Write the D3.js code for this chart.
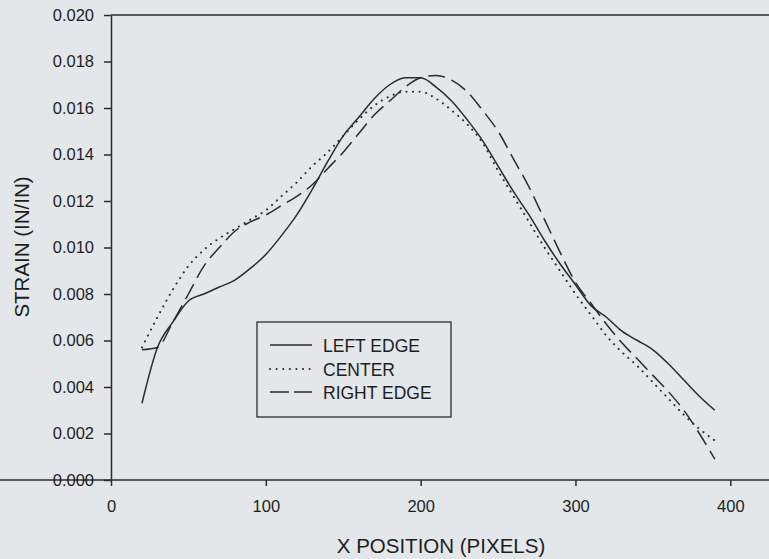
<!DOCTYPE html>
<html>
<head>
<meta charset="utf-8">
<script src="https://cdn.jsdelivr.net/npm/d3@7"></script>
<style>
  html, body { margin: 0; padding: 0; background: #e3e7ea; }
  svg { display: block; }
  text { font-family: "Liberation Sans", Arial, Helvetica, sans-serif; fill: #1e1e1e; }
</style>
</head>
<body>
<svg id="chart" width="769" height="559"></svg>
<script>
// ---- data ----
const xPositions = [20, 30, 40, 50, 60, 70, 80, 90, 100, 110, 120, 130, 140, 150, 160, 170, 180, 190, 200,
  210, 220, 230, 240, 250, 260, 270, 280, 290, 300, 310, 320, 330, 340, 350, 360, 370, 380, 390];
const leftEdge = [0.0033, 0.0057, 0.0068, 0.0077, 0.0080, 0.0083, 0.0086, 0.0091, 0.0097, 0.0105, 0.0114,
  0.0125, 0.0137, 0.0148, 0.0156, 0.0164, 0.0170, 0.0173, 0.0173, 0.0169, 0.0163, 0.0155, 0.0146, 0.0135,
  0.0124, 0.0114, 0.0103, 0.0093, 0.0084, 0.0075, 0.0070, 0.0064, 0.0060, 0.0056, 0.0050, 0.0043, 0.0036, 0.0030];
const center = [0.0057, 0.0070, 0.0082, 0.0092, 0.0099, 0.0104, 0.0108, 0.0112, 0.0116, 0.0122, 0.0128,
  0.0135, 0.0141, 0.0148, 0.0155, 0.0161, 0.0165, 0.0167, 0.0167, 0.0164, 0.0159, 0.0153, 0.0145, 0.0133,
  0.0122, 0.0111, 0.0100, 0.0090, 0.0080, 0.0071, 0.0062, 0.0055, 0.0049, 0.0042, 0.0035, 0.0028, 0.0022, 0.0017];
const rightEdge = [0.0056, 0.0057, 0.0068, 0.0080, 0.0092, 0.0100, 0.0107, 0.0111, 0.0114, 0.0118, 0.0122,
  0.0127, 0.0134, 0.0141, 0.0149, 0.0157, 0.0163, 0.0169, 0.0173, 0.0174, 0.0172, 0.0167, 0.0159, 0.0150,
  0.0138, 0.0126, 0.0112, 0.0098, 0.0085, 0.0076, 0.0067, 0.0059, 0.0052, 0.0045, 0.0038, 0.0030, 0.0020, 0.0009];
const seriesNames = ["LEFT EDGE", "CENTER", "RIGHT EDGE"];
const xTickValues = [0, 100, 200, 300, 400];
const yTickValues = [0, 0.002, 0.004, 0.006, 0.008, 0.010, 0.012, 0.014, 0.016, 0.018, 0.020];
const xTitle = "X POSITION (PIXELS)";
const yTitle = "STRAIN (IN/IN)";

// ---- drawing ----
const svg = d3.select("#chart");
const ink = "#2b2b2b";
const x = d3.scaleLinear().domain([0, 425]).range([111, 769]);
const y = d3.scaleLinear().domain([0, 0.020]).range([480, 15]);

const dashes = [null, "1.3,5.7", "17,7"];
const seriesData = [leftEdge, center, rightEdge];

// frame top line
svg.append("line").attr("x1", x(0)).attr("x2", 769).attr("y1", y(0.020)).attr("y2", y(0.020))
  .attr("stroke", ink).attr("stroke-width", 1.5);

const xAxis = svg.append("g").attr("transform", `translate(0,${y(0)})`)
  .call(d3.axisBottom(x).tickValues(xTickValues).tickFormat(d3.format("d"))
    .tickSize(6).tickSizeOuter(0).tickPadding(14));
const yAxis = svg.append("g").attr("transform", `translate(${x(0)},0)`)
  .call(d3.axisLeft(y).tickValues(yTickValues).tickFormat(d3.format(".3f"))
    .tickSize(7).tickSizeOuter(0).tickPadding(10));
[xAxis, yAxis].forEach(g => {
  g.select(".domain").attr("stroke", ink).attr("stroke-width", 1.5);
  g.selectAll(".tick line").attr("stroke", ink).attr("stroke-width", 1.5);
  g.selectAll(".tick text").attr("font-size", 16.5).attr("fill", "#1e1e1e")
    .attr("font-family", "'Liberation Sans', Arial, sans-serif");
});
// extend x domain line to right edge
xAxis.select(".domain").attr("d", `M0,0H769`);

svg.append("text").attr("x", 441).attr("y", 553).attr("text-anchor", "middle")
  .attr("font-size", 20.5).text(xTitle);
svg.append("text").attr("transform", "translate(29,247) rotate(-90)").attr("text-anchor", "middle")
  .attr("font-size", 20.5).text(yTitle);

const line = d3.line().x((d, i) => x(xPositions[i])).y(d => y(d)).curve(d3.curveMonotoneX);
seriesData.forEach((s, k) => {
  const p = svg.append("path").datum(s).attr("d", line).attr("fill", "none")
    .attr("stroke", ink).attr("stroke-width", k === 1 ? 1.6 : 1.5);
  if (dashes[k]) p.attr("stroke-dasharray", dashes[k]);
  if (k === 1) p.attr("stroke-linecap", "round").attr("stroke-dasharray", "0.1,6.5").attr("stroke-width", 2);
});

// legend
const lg = svg.append("g");
lg.append("rect").attr("x", 257).attr("y", 322).attr("width", 194).attr("height", 95)
  .attr("fill", "none").attr("stroke", ink).attr("stroke-width", 1.3);
const rowY = [345, 369, 392];
seriesNames.forEach((name, k) => {
  const l = lg.append("line").attr("x1", 270).attr("x2", 312).attr("y1", rowY[k]).attr("y2", rowY[k])
    .attr("stroke", ink).attr("stroke-width", 1.5);
  if (k === 1) l.attr("stroke-linecap", "round").attr("stroke-dasharray", "0.1,6.5").attr("stroke-width", 2);
  if (k === 2) l.attr("stroke-dasharray", "19,5");
  lg.append("text").attr("x", 323).attr("y", rowY[k] + 7).attr("font-size", 17.5).text(name);
});
</script>
</body>
</html>
